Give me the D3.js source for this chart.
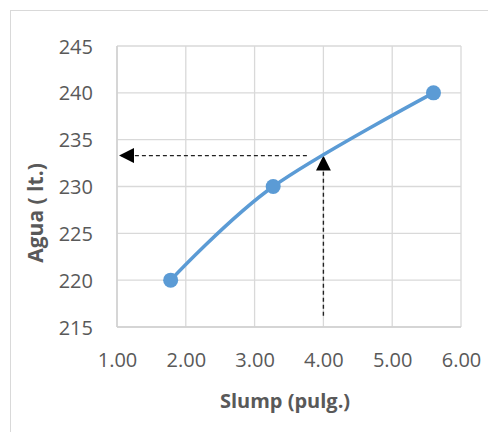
<!DOCTYPE html>
<html>
<head>
<meta charset="utf-8">
<script src="https://cdn.jsdelivr.net/npm/d3@7"></script>
<style>
  html, body { margin: 0; padding: 0; background: #fff; }
  svg { display: block; }
  text { font-family: "Open Sans", "Noto Sans", sans-serif; fill: #595959; }
</style>
</head>
<body>
<svg id="chart" width="488" height="432"></svg>
<script>
// Slump vs. water content
const slump = [1.78, 3.27, 5.6];
const agua = [220, 230, 240];
const xTicks = [1, 2, 3, 4, 5, 6];
const yTicks = [215, 220, 225, 230, 235, 240, 245];
// Reading taken from the curve at slump 4.00
const readSlump = [4.0];
const readAgua = [233.3];
const xTitle = "Slump (pulg.)";
const yTitle = "Agua ( lt.)";

const svg = d3.select("#chart");
const plot = { left: 117, right: 461, top: 46, bottom: 327 };

const x = d3.scaleLinear().domain([1, 6]).range([plot.left, plot.right]);
const y = d3.scaleLinear().domain([215, 245]).range([plot.bottom, plot.top]);

// outer chart frame
svg.append("rect")
  .attr("x", 10.5).attr("y", 10.5)
  .attr("width", 520).attr("height", 480)
  .attr("fill", "none").attr("stroke", "#d9d9d9").attr("stroke-width", 1);

// gridlines
const grid = svg.append("g");
grid.selectAll("line.v").data(xTicks).join("line")
  .attr("x1", d => x(d)).attr("x2", d => x(d))
  .attr("y1", plot.top).attr("y2", plot.bottom)
  .attr("stroke", "#d9d9d9").attr("stroke-width", 1.3);
grid.selectAll("line.h").data(yTicks).join("line")
  .attr("y1", d => y(d)).attr("y2", d => y(d))
  .attr("x1", plot.left).attr("x2", plot.right)
  .attr("stroke", "#d9d9d9").attr("stroke-width", 1.3);

// axes (labels only)
const xAxis = svg.append("g")
  .attr("transform", `translate(0,${plot.bottom})`)
  .call(d3.axisBottom(x).tickValues(xTicks).tickSize(0).tickFormat(d3.format(".2f")));
const yAxis = svg.append("g")
  .attr("transform", `translate(${plot.left},0)`)
  .call(d3.axisLeft(y).tickValues(yTicks).tickSize(0).tickPadding(24));
[xAxis, yAxis].forEach(g => {
  g.select(".domain").remove();
  g.selectAll("text").attr("font-size", 20).attr("fill", "#595959")
    .style("font-family", '"Open Sans", sans-serif');
});
xAxis.selectAll("text").attr("y", 40).attr("dy", 0);
yAxis.selectAll("text").attr("dy", "0.35em");

svg.append("line")
  .attr("x1", plot.left).attr("x2", plot.right)
  .attr("y1", plot.bottom).attr("y2", plot.bottom)
  .attr("stroke", "#d0d0d0").attr("stroke-width", 1.5);
svg.append("line")
  .attr("x1", plot.left).attr("x2", plot.left)
  .attr("y1", plot.top).attr("y2", plot.bottom)
  .attr("stroke", "#d0d0d0").attr("stroke-width", 1.5);

// axis titles
svg.append("text")
  .attr("x", 285).attr("y", 408)
  .attr("text-anchor", "middle")
  .attr("font-size", 20).attr("font-weight", "bold")
  .text(xTitle);
svg.append("text")
  .attr("transform", "translate(43,213) rotate(-90)")
  .attr("text-anchor", "middle")
  .attr("font-size", 21).attr("font-weight", "bold")
  .text(yTitle);

// arrow marker
const defs = svg.append("defs");
defs.append("marker")
  .attr("id", "arrow")
  .attr("viewBox", "0 0 10 10")
  .attr("refX", 10).attr("refY", 5)
  .attr("markerWidth", 15).attr("markerHeight", 15)
  .attr("markerUnits", "userSpaceOnUse")
  .attr("orient", "auto")
  .append("path").attr("d", "M0,0 L10,5 L0,10 Z").attr("fill", "#000");

// reading lines: up from the x-axis to the curve, then left to the y-axis
const rs = readSlump[0], ra = readAgua[0];
svg.append("line")
  .attr("x1", x(rs)).attr("x2", x(rs))
  .attr("y1", y(216.2)).attr("y2", y(ra))
  .attr("stroke", "#222").attr("stroke-width", 1.4)
  .attr("stroke-dasharray", "4,3")
  .attr("marker-end", "url(#arrow)");
svg.append("line")
  .attr("x1", x(3.76)).attr("x2", x(1.03))
  .attr("y1", y(ra)).attr("y2", y(ra))
  .attr("stroke", "#222").attr("stroke-width", 1.3)
  .attr("stroke-dasharray", "4,3")
  .attr("marker-end", "url(#arrow)");

// smoothed series line
const pts = slump.map((s, i) => [s, agua[i]]);
svg.append("path")
  .datum(pts)
  .attr("d", d3.line().x(d => x(d[0])).y(d => y(d[1])).curve(d3.curveCardinal.tension(0)))
  .attr("fill", "none").attr("stroke", "#5b9bd5").attr("stroke-width", 3.5)
  .attr("stroke-linecap", "round");

// markers
svg.selectAll("circle.pt").data(pts).join("circle")
  .attr("cx", d => x(d[0])).attr("cy", d => y(d[1]))
  .attr("r", 7.5).attr("fill", "#5b9bd5");
</script>
</body>
</html>
